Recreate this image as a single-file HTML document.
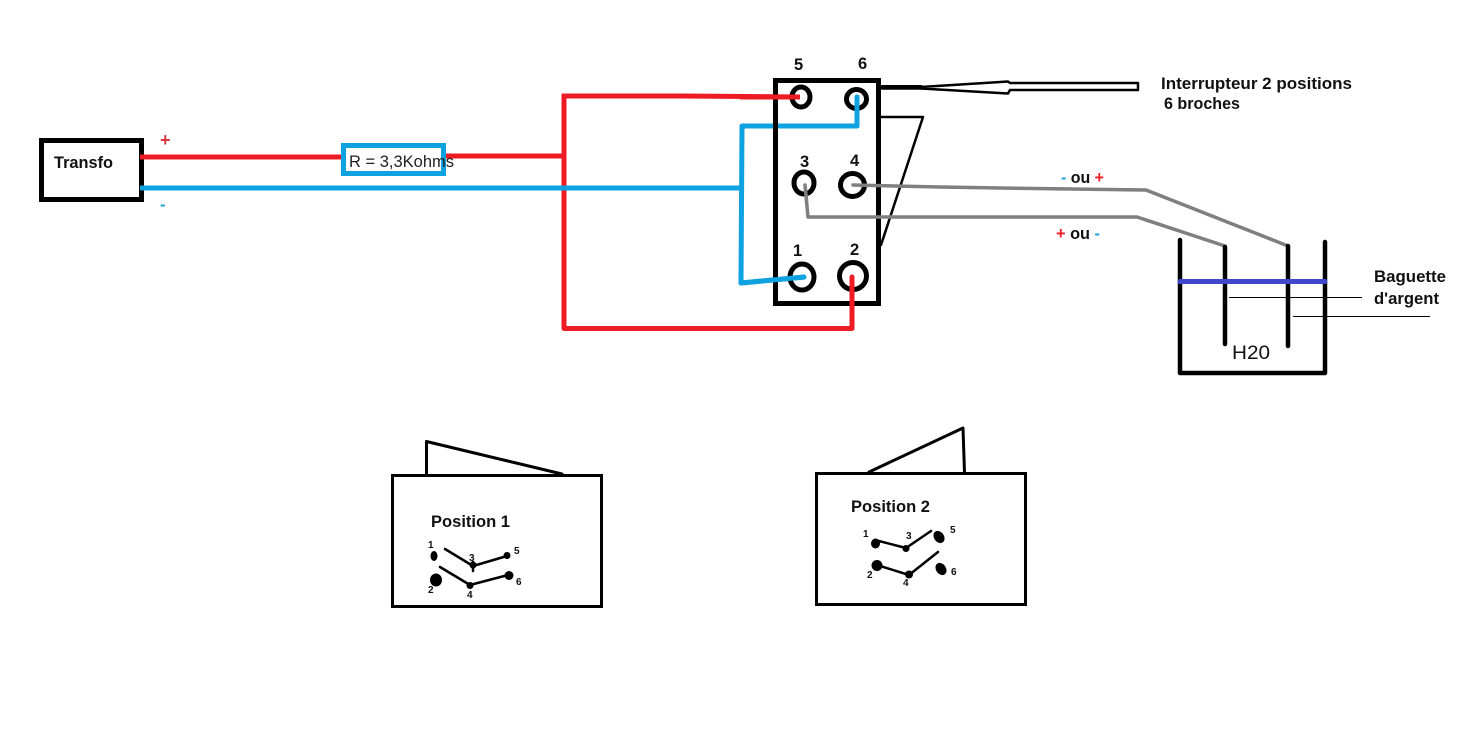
<!DOCTYPE html>
<html><head><meta charset="utf-8"><style>
html,body{margin:0;padding:0;background:#fff}
svg{display:block}
text{font-family:"Liberation Sans",sans-serif;font-weight:bold;font-size:16.5px;fill:#111}
.t{font-size:16.5px}
.s{font-size:10px}
</style></head><body>
<svg width="1483" height="744" viewBox="0 0 1483 744" fill="none" stroke-linecap="round" stroke-linejoin="round">
<rect width="1483" height="744" fill="#fff"/>
<!-- Transfo -->
<rect x="41.5" y="140.5" width="100" height="59" stroke="#000" stroke-width="5" stroke-linejoin="miter"/>
<text x="54" y="168" textLength="59" lengthAdjust="spacingAndGlyphs">Transfo</text>
<text x="160" y="146" style="fill:#d9333f;font-size:18px">+</text>
<text x="160" y="210" style="fill:#2a9fd0;font-size:17px">-</text>
<!-- Red wires -->
<g stroke="#ed1c24" stroke-width="5" stroke-linecap="butt">
<path d="M140 157H343"/>
<path d="M442 156H564"/>
<path d="M564 94V328.500H852V284"/>
<path d="M562 96H682L800 97"/>
</g>
<!-- Resistor -->
<rect x="343.5" y="145.5" width="100" height="28" stroke="#0ea2e0" stroke-width="5" stroke-linejoin="miter"/>
<text x="349" y="167" textLength="105" lengthAdjust="spacingAndGlyphs" style="font-weight:normal;font-size:17px;fill:#222">R = 3,3Kohms</text>
<!-- Blue wires -->
<g stroke="#0ea2e0" stroke-width="5" stroke-linecap="butt">
<path d="M140 188H741"/>
<path d="M857 97V126H742L741 283L805 277"/>
</g>
<!-- Switch body -->
<rect x="775.5" y="80.500" width="103" height="223" stroke="#000" stroke-width="5" stroke-linejoin="miter"/>
<path d="M881 117H923L881 245" stroke="#000" stroke-width="2.500"/>
<!-- Lever -->
<path d="M882 87H921L1008 81.500L1010 83H1138V90H1010L1008 93.500L921 88.500H882Z" stroke="#000" stroke-width="2.500" fill="#fff"/>
<path d="M882 87H921" stroke="#000" stroke-width="4"/>
<!-- Terminals -->
<g stroke="#000" stroke-width="5" fill="none">
<ellipse cx="801" cy="97" rx="9" ry="10"/>
<ellipse cx="856.500" cy="99" rx="10" ry="9.500"/>
<ellipse cx="804" cy="183" rx="10" ry="11"/>
<ellipse cx="852.500" cy="185" rx="12" ry="11.500"/>
<ellipse cx="802" cy="277" rx="12" ry="13"/>
<circle cx="853" cy="276" r="13.500"/>
</g>
<!-- Wire tips above terminals -->
<path d="M740 97H800" stroke="#ed1c24" stroke-width="5" stroke-linecap="butt"/>
<path d="M857 97V126" stroke="#0ea2e0" stroke-width="5"/>
<path d="M741 283L804 277" stroke="#0ea2e0" stroke-width="5"/>
<path d="M852 328V277" stroke="#ed1c24" stroke-width="5"/>
<!-- Gray wires -->
<g stroke="#7f7f7f" stroke-width="3.500">
<path d="M853 185L940 187L1000 188L1146 190L1288 246"/>
<path d="M805 185L808 217H1137L1225 246"/>
</g>
<!-- Terminal labels -->
<text x="794" y="70">5</text>
<text x="858" y="69">6</text>
<text x="800" y="167">3</text>
<text x="850" y="166">4</text>
<text x="793" y="256">1</text>
<text x="850" y="255">2</text>
<!-- Labels -->
<text x="1161" y="89" textLength="191" lengthAdjust="spacingAndGlyphs">Interrupteur 2 positions</text>
<text x="1164" y="109" textLength="76" lengthAdjust="spacingAndGlyphs">6 broches</text>
<text x="1061" y="183" textLength="43" lengthAdjust="spacingAndGlyphs"><tspan style="fill:#1f9fd8">-</tspan> ou <tspan style="fill:#ed1c24">+</tspan></text>
<text x="1056" y="239" textLength="44" lengthAdjust="spacingAndGlyphs"><tspan style="fill:#ed1c24">+</tspan> ou <tspan style="fill:#1f9fd8">-</tspan></text>
<!-- Beaker -->
<path d="M1180 240V373H1325V242" stroke="#000" stroke-width="4.500"/>
<path d="M1225 247V344M1288 246V346" stroke="#000" stroke-width="4.500"/>
<path d="M1180 281.500H1325" stroke="#3f48cc" stroke-width="5"/>
<path d="M1229 297.500H1362M1293 316.500H1430" stroke="#000" stroke-width="1" stroke-linecap="butt"/>
<text x="1232" y="359" textLength="38" lengthAdjust="spacingAndGlyphs" style="font-weight:normal;font-size:19px">H20</text>
<text x="1374" y="282" textLength="72" lengthAdjust="spacingAndGlyphs">Baguette</text>
<text x="1374" y="304" textLength="65" lengthAdjust="spacingAndGlyphs">d'argent</text>
<!-- Position 1 -->
<rect x="392.500" y="475.500" width="209" height="131" stroke="#000" stroke-width="3" stroke-linejoin="miter"/>
<path d="M426.500 475V441.500L562 474" stroke="#000" stroke-width="3"/>
<text x="431" y="527" textLength="79" lengthAdjust="spacingAndGlyphs">Position 1</text>
<g stroke="#000" stroke-width="2.500">
<path d="M445 549L473 566L507 556"/>
<path d="M473 562V571"/>
<path d="M440 567L470 585L508 575"/>
</g>
<g fill="#000">
<ellipse cx="434" cy="556" rx="3.500" ry="5"/>
<ellipse cx="436" cy="580" rx="6" ry="6.500"/>
<circle cx="473" cy="565" r="3.500"/>
<circle cx="507" cy="555.500" r="3.500"/>
<circle cx="470" cy="585.500" r="3.500"/>
<circle cx="509" cy="575.500" r="4.500"/>
</g>
<g>
<text class="s" x="428" y="548" style="font-size:10px">1</text>
<text class="s" x="428" y="593" style="font-size:10px">2</text>
<text class="s" x="469" y="561" style="font-size:10px">3</text>
<text class="s" x="467" y="598" style="font-size:10px">4</text>
<text class="s" x="514" y="554" style="font-size:10px">5</text>
<text class="s" x="516" y="585" style="font-size:10px">6</text>
</g>
<!-- Position 2 -->
<rect x="816.500" y="473.500" width="209" height="131" stroke="#000" stroke-width="3" stroke-linejoin="miter"/>
<path d="M869 472L963 428L964.500 473" stroke="#000" stroke-width="3"/>
<text x="851" y="512" textLength="79" lengthAdjust="spacingAndGlyphs">Position 2</text>
<g stroke="#000" stroke-width="2.500">
<path d="M875 540L906 548L931 531"/>
<path d="M877 565L909 575L938 552"/>
</g>
<g fill="#000">
<ellipse cx="875.500" cy="543.500" rx="4.500" ry="5"/>
<ellipse cx="877" cy="565.500" rx="5.500" ry="5.500"/>
<circle cx="906" cy="548.500" r="3.500"/>
<circle cx="909" cy="574.500" r="4"/>
<ellipse cx="939" cy="537" rx="5" ry="6.500" transform="rotate(-35 939 537)"/>
<ellipse cx="941" cy="569" rx="5" ry="6.500" transform="rotate(-35 941 569)"/>
</g>
<g>
<text x="863" y="537" style="font-size:10px">1</text>
<text x="867" y="578" style="font-size:10px">2</text>
<text x="906" y="539" style="font-size:10px">3</text>
<text x="903" y="586" style="font-size:10px">4</text>
<text x="950" y="533" style="font-size:10px">5</text>
<text x="951" y="575" style="font-size:10px">6</text>
</g>
</svg>
</body></html>
